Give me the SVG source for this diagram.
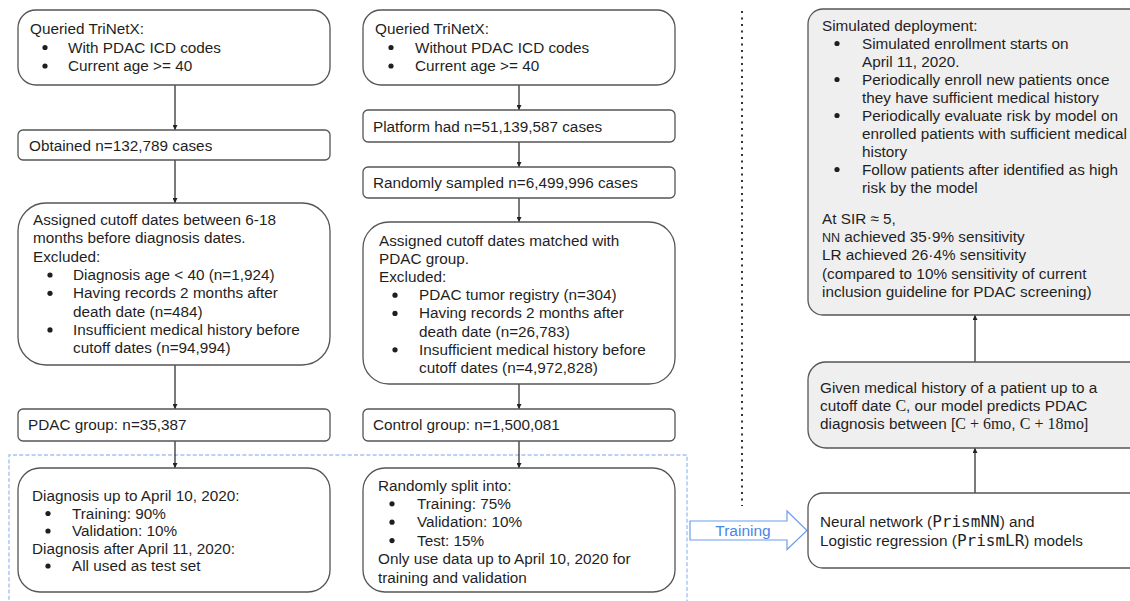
<svg xmlns="http://www.w3.org/2000/svg" width="1130" height="601" viewBox="0 0 1130 601">
  <style>
    .box { fill: #ffffff; stroke: #555555; stroke-width: 1.3; }
    .gbox { fill: #efefef; stroke: #555555; stroke-width: 1.3; }
    text { font-family: "Liberation Sans", Arial, sans-serif; font-size: 15.3px; fill: #1f1f1f; }
    .mono { font-family: "DejaVu Sans Mono", "Liberation Mono", monospace; font-size: 16px; }
    .serif { font-family: "Liberation Serif", "Times New Roman", serif; font-size: 16px; }
    .small { font-size: 12.5px; }
    .dot { fill: #1f1f1f; }
    .conn { stroke: #222222; stroke-width: 1.2; fill: none; marker-end: url(#ah); }
    .blue { fill: #4a86e8; font-size: 15.5px; }
  </style>
  <defs>
    <marker id="ah" viewBox="0 0 8 8" refX="8" refY="4" markerWidth="5" markerHeight="5" orient="auto" markerUnits="userSpaceOnUse">
      <path d="M0,0 L8,4 L0,8 Z" fill="#222222"/>
    </marker>
  </defs>
  <rect width="1130" height="601" fill="#ffffff"/>

  <!-- dataset split region and separator -->
  <path d="M9,606 V455 H687 V606" fill="none" stroke="#a4c2f4" stroke-width="1.4" stroke-dasharray="4 2.2"/>
  <line x1="742" y1="11" x2="742" y2="506" stroke="#333333" stroke-width="2" stroke-dasharray="2 4.5"/>

  <!-- connectors -->
  <g id="connectors">
    <line class="conn" x1="175" y1="85" x2="175" y2="130"/>
    <line class="conn" x1="175" y1="160" x2="175" y2="203"/>
    <line class="conn" x1="175" y1="365" x2="175" y2="409"/>
    <line class="conn" x1="175" y1="441" x2="175" y2="468"/>
    <line class="conn" x1="519" y1="85" x2="519" y2="110"/>
    <line class="conn" x1="519" y1="142" x2="519" y2="167"/>
    <line class="conn" x1="519" y1="198" x2="519" y2="222"/>
    <line class="conn" x1="519" y1="384" x2="519" y2="409"/>
    <line class="conn" x1="519" y1="441" x2="519" y2="468"/>
    <line class="conn" x1="975" y1="493" x2="975" y2="448"/>
    <line class="conn" x1="975" y1="362" x2="975" y2="315"/>
    <!-- training block arrow -->
    <path d="M690,521 H787 V511 L807,530.5 L787,549.5 V540 H690 Z" fill="#ffffff" stroke="#6d9eeb" stroke-width="1.2"/>
    <text class="blue" x="743" y="536" text-anchor="middle">Training</text>
  </g>

  <!-- PDAC column -->
  <g id="pdac-query">
    <rect class="box" x="18" y="10" width="312" height="75" rx="18"/>
    <text x="30" y="34">Queried TriNetX:</text>
    <circle class="dot" cx="45" cy="47.5" r="2.6"/>
    <text x="68" y="52.5">With PDAC ICD codes</text>
    <circle class="dot" cx="45" cy="66" r="2.6"/>
    <text x="68" y="71">Current age &gt;= 40</text>
  </g>
  <g id="pdac-obtained">
    <rect class="box" x="18" y="130" width="312" height="30" rx="5"/>
    <text x="29" y="151">Obtained n=132,789 cases</text>
  </g>
  <g id="pdac-cutoff">
    <rect class="box" x="18" y="203" width="312" height="162" rx="28"/>
    <text x="33" y="225">Assigned cutoff dates between 6-18</text>
    <text x="33" y="243.3">months before diagnosis dates.</text>
    <text x="33" y="261.6">Excluded:</text>
    <circle class="dot" cx="50" cy="275" r="2.6"/>
    <text x="73" y="279.9">Diagnosis age &lt; 40 (n=1,924)</text>
    <circle class="dot" cx="50" cy="293.3" r="2.6"/>
    <text x="73" y="298.2">Having records 2 months after</text>
    <text x="73" y="316.5">death date (n=484)</text>
    <circle class="dot" cx="50" cy="329.9" r="2.6"/>
    <text x="73" y="334.8">Insufficient medical history before</text>
    <text x="73" y="353.1">cutoff dates (n=94,994)</text>
  </g>
  <g id="pdac-group">
    <rect class="box" x="18" y="409" width="312" height="32" rx="5"/>
    <text x="28" y="430">PDAC group: n=35,387</text>
  </g>
  <g id="pdac-split">
    <rect class="box" x="18" y="468" width="312" height="124" rx="22"/>
    <text x="32" y="501">Diagnosis up to April 10, 2020:</text>
    <circle class="dot" cx="48" cy="513.5" r="2.6"/>
    <text x="72" y="518.5">Training: 90%</text>
    <circle class="dot" cx="48" cy="531" r="2.6"/>
    <text x="72" y="536">Validation: 10%</text>
    <text x="32" y="553.5">Diagnosis after April 11, 2020:</text>
    <circle class="dot" cx="48" cy="566" r="2.6"/>
    <text x="72" y="571">All used as test set</text>
  </g>

  <!-- Control column -->
  <g id="control-query">
    <rect class="box" x="363" y="10" width="312" height="75" rx="18"/>
    <text x="375" y="34">Queried TriNetX:</text>
    <circle class="dot" cx="391" cy="47.5" r="2.6"/>
    <text x="415" y="52.5">Without PDAC ICD codes</text>
    <circle class="dot" cx="391" cy="66" r="2.6"/>
    <text x="415" y="71">Current age &gt;= 40</text>
  </g>
  <g id="control-platform">
    <rect class="box" x="363" y="110" width="312" height="32" rx="5"/>
    <text x="373" y="131.5">Platform had n=51,139,587 cases</text>
  </g>
  <g id="control-sampled">
    <rect class="box" x="363" y="167" width="312" height="31" rx="5"/>
    <text x="373" y="188">Randomly sampled n=6,499,996 cases</text>
  </g>
  <g id="control-cutoff">
    <rect class="box" x="363" y="222" width="312" height="162" rx="26"/>
    <text x="379" y="245.5">Assigned cutoff dates matched with</text>
    <text x="379" y="263.7">PDAC group.</text>
    <text x="379" y="281.9">Excluded:</text>
    <circle class="dot" cx="395" cy="295.2" r="2.6"/>
    <text x="419" y="300.1">PDAC tumor registry (n=304)</text>
    <circle class="dot" cx="395" cy="313.4" r="2.6"/>
    <text x="419" y="318.3">Having records 2 months after</text>
    <text x="419" y="336.5">death date (n=26,783)</text>
    <circle class="dot" cx="395" cy="349.8" r="2.6"/>
    <text x="419" y="354.7">Insufficient medical history before</text>
    <text x="419" y="372.9">cutoff dates (n=4,972,828)</text>
  </g>
  <g id="control-group">
    <rect class="box" x="363" y="409" width="312" height="32" rx="5"/>
    <text x="373" y="430">Control group: n=1,500,081</text>
  </g>
  <g id="control-split">
    <rect class="box" x="363" y="468" width="312" height="124" rx="22"/>
    <text x="378" y="490.5">Randomly split into:</text>
    <circle class="dot" cx="392" cy="503.8" r="2.6"/>
    <text x="417" y="508.9">Training: 75%</text>
    <circle class="dot" cx="392" cy="522.2" r="2.6"/>
    <text x="417" y="527.3">Validation: 10%</text>
    <circle class="dot" cx="392" cy="540.6" r="2.6"/>
    <text x="417" y="545.7">Test: 15%</text>
    <text x="378" y="564.1">Only use data up to April 10, 2020 for</text>
    <text x="378" y="582.5">training and validation</text>
  </g>

  <!-- Model column -->
  <g id="models">
    <rect class="box" x="808" y="493" width="340" height="75" rx="15"/>
    <text x="820" y="527">Neural network (<tspan class="mono">PrismNN</tspan>) and</text>
    <text x="820" y="545.5">Logistic regression (<tspan class="mono">PrismLR</tspan>) models</text>
  </g>
  <g id="prediction-task">
    <rect class="gbox" x="808" y="362" width="340" height="86" rx="18"/>
    <text x="820" y="393">Given medical history of a patient up to a</text>
    <text x="820" y="411.2">cutoff date <tspan class="serif">C</tspan>, our model predicts PDAC</text>
    <text x="820" y="429.4">diagnosis between [<tspan class="serif">C + 6mo</tspan>, <tspan class="serif">C + 18mo</tspan>]</text>
  </g>
  <g id="deployment">
    <rect class="gbox" x="808" y="9" width="340" height="306" rx="15"/>
    <text x="822" y="30.5">Simulated deployment:</text>
    <circle class="dot" cx="837" cy="43.5" r="2.6"/>
    <text x="862" y="48.5">Simulated enrollment starts on</text>
    <text x="862" y="66.5">April 11, 2020.</text>
    <circle class="dot" cx="837" cy="79.5" r="2.6"/>
    <text x="862" y="84.5">Periodically enroll new patients once</text>
    <text x="862" y="102.5">they have sufficient medical history</text>
    <circle class="dot" cx="837" cy="115.5" r="2.6"/>
    <text x="862" y="120.5">Periodically evaluate risk by model on</text>
    <text x="862" y="138.5">enrolled patients with sufficient medical</text>
    <text x="862" y="156.5">history</text>
    <circle class="dot" cx="837" cy="169.5" r="2.6"/>
    <text x="862" y="174.5">Follow patients after identified as high</text>
    <text x="862" y="192.5">risk by the model</text>
    <text x="822" y="223.5">At SIR ≈ 5,</text>
    <text x="822" y="242"><tspan class="small">NN</tspan> achieved 35·9% sensitivity</text>
    <text x="822" y="260.4">LR achieved 26·4% sensitivity</text>
    <text x="822" y="278.8">(compared to 10% sensitivity of current</text>
    <text x="822" y="297.2">inclusion guideline for PDAC screening)</text>
  </g>
</svg>
